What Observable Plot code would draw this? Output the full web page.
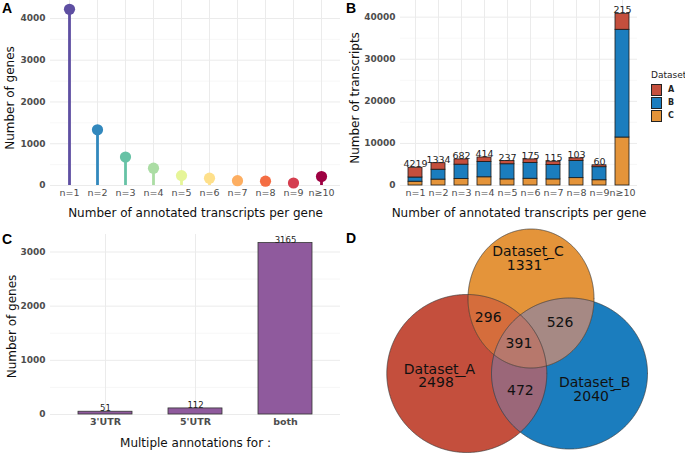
<!DOCTYPE html>
<html>
<head>
<meta charset="utf-8">
<script src="https://cdn.jsdelivr.net/npm/d3@7"></script>
<script src="https://cdn.jsdelivr.net/npm/@observablehq/plot@0.6"></script>
<style>
  html, body { margin:0; padding:0; background:#fff; }
  #fig { position:relative; width:685px; height:453px; overflow:hidden; font-family:"DejaVu Sans", sans-serif; }
  .panel { position:absolute; }
  .tag { position:absolute; font:bold 14px "Liberation Sans", Arial, sans-serif; line-height:14px; color:#000; }
  .panel svg [aria-label^="y-axis"] text { font-weight:bold; font-size:9px; }
  .panel svg [aria-label^="x-axis"] text { font-size:9.5px; }
  #panelC svg [aria-label^="x-axis"] text { font-weight:bold; font-size:9.5px; }
  #legendB { position:absolute; left:651px; top:70px; font-family:"DejaVu Sans", sans-serif; }
  #legendB .ttl { font-size:9px; color:#222; line-height:10px; height:13px; }
  #legendB .row { display:flex; align-items:center; height:13px; }
  #legendB .key { width:11px; height:12px; border:0.8px solid #222; box-sizing:border-box; }
  #legendB .lab { font-size:8px; font-weight:bold; color:#222; margin-left:6px; }
</style>
</head>
<body>
<div id="fig"></div>
<script>
// ---------------- data ----------------
const nLabels = ["n=1","n=2","n=3","n=4","n=5","n=6","n=7","n=8","n=9","n\u226510"];
const genesPerN = [4219,1334,682,414,237,175,115,103,60,215];
const spectralColors = ["#5E4FA2","#3288BD","#66C2A5","#ABDDA4","#E6F598","#FEE08B","#FDAE61","#F46D43","#D53E4F","#9E0142"];

const datasets = ["A","B","C"];
const datasetColors = ["#C44F3D","#1B7DBE","#E4943A"];
const transcriptsA = [2319,1550,1250,1050,750,850,800,600,450,3800];
const transcriptsB = [1000,2350,3400,3650,3600,3750,3400,4100,3100,25600];
const transcriptsC = [900,1400,1550,1950,1450,1600,1450,1750,1250,11400];

const utrCategories = ["3'UTR","5'UTR","both"];
const utrGenes = [51,112,3165];
const utrColor = "#8F5A9D";

const ticksA = [0,1000,2000,3000,4000];
const minorA = [500,1500,2500,3500];
const ticksB = [0,10000,20000,30000,40000];
const minorB = [5000,15000,25000,35000];
const ticksC = [0,1000,2000,3000];
const minorC = [500,1500,2500];

const vennSetNames = ["Dataset_A","Dataset_B","Dataset_C"];
const vennRegionKeys = ["100","010","001","110","101","011","111"];
const vennRegionCounts = [2498,2040,1331,472,296,526,391];
const vennRegionColors = ["#C44F3D","#1B7DBE","#E4943A","#9B6779","#D56D3C","#A68984","#B7786C"];

// layout of the Venn ellipses (panel units) and label nudges (px)
const vennLayout = [
  {cx:126.3, cy:148, rx:80, ry:79},
  {cx:229, cy:148, rx:78, ry:75.5},
  {cx:190.5, cy:73, rx:63, ry:69.5}
];
const vennLabelNudge = [[-7,-4],[2,3],[-3,-12],[2,0],[-2,-2],[0,-3],[-2,-2]];

// ---------------- helpers ----------------
const fig = document.getElementById("fig");
function place(node, left, top, id) {
  const d = document.createElement("div");
  d.className = "panel"; d.style.left = left + "px"; d.style.top = top + "px";
  if (id) d.id = id;
  d.appendChild(node); fig.appendChild(d);
}
function tag(t, left, top) {
  const d = document.createElement("div");
  d.className = "tag"; d.textContent = t; d.style.left = left + "px"; d.style.top = top + "px";
  fig.appendChild(d);
}
const baseStyle = {fontFamily:"DejaVu Sans, sans-serif", fontSize:"9px", color:"#4d4d4d", background:"transparent", overflow:"visible"};
const majorGrid = "#ebebeb", minorGrid = "#f4f4f4";
function titleY(t, dx, dy) { return Plot.text([t], {text:d=>d, frameAnchor:"left", textAnchor:"middle", lineAnchor:"middle", rotate:-90, dx, dy, fontSize:12, fill:"#111"}); }
function titleX(t, dy) { return Plot.text([t], {text:d=>d, frameAnchor:"bottom", textAnchor:"middle", lineAnchor:"middle", dy, fontSize:12, fill:"#111"}); }

// ---------------- Panel A ----------------
const dataA = nLabels.map((n,i) => ({n, genes: genesPerN[i]}));
const plotA = Plot.plot({
  width:340, height:225, marginLeft:50, marginRight:0, marginTop:0, marginBottom:40, style:baseStyle,
  x:{type:"point", domain:nLabels, padding:0.6, label:null, tickSize:0, tickPadding:4},
  y:{domain:[0,4430], label:null, tickSize:0, tickPadding:5, ticks:ticksA, tickFormat:"d"},
  color:{type:"ordinal", domain:nLabels, range:spectralColors},
  marks:[
    Plot.ruleY(minorA, {stroke:minorGrid, strokeWidth:0.7}),
    Plot.ruleY(ticksA, {stroke:majorGrid}),
    Plot.ruleX(nLabels, {stroke:majorGrid}),
    Plot.ruleX(dataA, {x:"n", y1:0, y2:"genes", stroke:"n", strokeWidth:2.8}),
    Plot.dot(dataA, {x:"n", y:"genes", fill:"n", r:5.6}),
    titleY("Number of genes", -40, 5),
    titleX("Number of annotated transcripts per gene", 28)
  ]
});
place(plotA, 0, 0, "panelA");

// ---------------- Panel B ----------------
const rowsB = [];
nLabels.forEach((n,i) => {
  rowsB.push({n, dataset:"C", value:transcriptsC[i]});
  rowsB.push({n, dataset:"B", value:transcriptsB[i]});
  rowsB.push({n, dataset:"A", value:transcriptsA[i]});
});
const totalsB = nLabels.map((n,i) => ({n, total: transcriptsA[i]+transcriptsB[i]+transcriptsC[i], label: String(genesPerN[i])}));
const plotB = Plot.plot({
  width:345, height:225, marginLeft:60, marginRight:48, marginTop:0, marginBottom:40, style:baseStyle,
  x:{type:"band", domain:nLabels, paddingInner:0.4, paddingOuter:0.3, label:null, tickSize:0, tickPadding:4},
  y:{domain:[0,43960], label:null, tickSize:0, tickPadding:5, ticks:ticksB, tickFormat:"d"},
  color:{domain:datasets, range:datasetColors},
  marks:[
    Plot.ruleY(minorB, {stroke:minorGrid, strokeWidth:0.7}),
    Plot.ruleY(ticksB, {stroke:majorGrid}),
    Plot.ruleX(nLabels, {stroke:majorGrid}),
    Plot.barY(rowsB, {x:"n", y:"value", fill:"dataset", stroke:"#1a1a1a", strokeWidth:0.8}),
    Plot.text(totalsB, {x:"n", y:"total", text:"label", lineAnchor:"bottom", dy:-0.5, fontSize:9.5, fill:"#222"}),
    titleY("Number of transcripts", -45, 5),
    titleX("Number of annotated transcripts per gene", 28)
  ]
});
place(plotB, 340, 0, "panelB");

// legend for B
const leg = document.createElement("div");
leg.id = "legendB";
leg.innerHTML = '<div class="ttl">Dataset</div>' + datasets.map((d,i) =>
  `<div class="row"><div class="key" style="background:${datasetColors[i]}"></div><div class="lab">${d}</div></div>`).join("");
fig.appendChild(leg);

// ---------------- Panel C ----------------
const dataC = utrCategories.map((c,i) => ({cat:c, genes:utrGenes[i]}));
const plotC = Plot.plot({
  width:340, height:228, marginLeft:50, marginRight:0, marginTop:9, marginBottom:39, style:baseStyle,
  x:{type:"band", domain:utrCategories, paddingInner:0.4, paddingOuter:0.3, label:null, tickSize:0, tickPadding:4},
  y:{domain:[0,3323], label:null, tickSize:0, tickPadding:5, ticks:ticksC, tickFormat:"d"},
  marks:[
    Plot.ruleY(minorC, {stroke:minorGrid, strokeWidth:0.7}),
    Plot.ruleY(ticksC, {stroke:majorGrid}),
    Plot.ruleX(utrCategories, {stroke:majorGrid}),
    Plot.barY(dataC, {x:"cat", y:"genes", fill:utrColor, stroke:"#333", strokeWidth:0.8}),
    Plot.text(dataC, {x:"cat", y:"genes", text:d => String(d.genes), lineAnchor:"bottom", dy:-0.5, fontSize:8.5, fill:"#222"}),
    titleY("Number of genes", -38, 2),
    titleX("Multiple annotations for :", 29)
  ]
});
place(plotC, 0, 225, "panelC");

// ---------------- Panel D (Venn) ----------------
const inside = (e, x, y) => ((x-e.cx)/e.rx)**2 + ((y-e.cy)/e.ry)**2 <= 1 + 1e-9;
function ellipsePts(e, n = 720) {
  return d3.range(n).map(k => { const t = 2*Math.PI*k/n; return {x: e.cx + e.rx*Math.cos(t), y: e.cy + e.ry*Math.sin(t)}; });
}
function intersectionPts(idxs) {
  const pts = [];
  idxs.forEach(i => ellipsePts(vennLayout[i]).forEach(p => {
    if (idxs.every(j => j === i || inside(vennLayout[j], p.x, p.y))) pts.push(p);
  }));
  const mx = d3.mean(pts, p => p.x), my = d3.mean(pts, p => p.y);
  pts.sort((a,b) => Math.atan2(a.y-my, a.x-mx) - Math.atan2(b.y-my, b.x-mx));
  return pts;
}
// region centroids for labels
const acc = {};
for (let x = 0; x <= 345; x += 1) for (let y = 0; y <= 240; y += 1) {
  const key = vennLayout.map(e => inside(e, x, y) ? "1" : "0").join("");
  if (key === "000") continue;
  (acc[key] ||= {sx:0, sy:0, n:0}); acc[key].sx += x; acc[key].sy += y; acc[key].n++;
}
const vennLabels = vennRegionKeys.map((k,i) => ({
  x: acc[k].sx/acc[k].n, y: acc[k].sy/acc[k].n,
  dx: vennLabelNudge[i][0], dy: vennLabelNudge[i][1],
  text: i < 3 ? `${vennSetNames[i]}\n${vennRegionCounts[i]}\u00AF` : String(vennRegionCounts[i])
}));
const vennMarks = [];
vennRegionKeys.forEach((k,i) => {
  const idxs = [...k].map((c,j) => c === "1" ? j : -1).filter(j => j >= 0);
  const pts = idxs.length === 1 ? ellipsePts(vennLayout[idxs[0]]) : intersectionPts(idxs);
  vennMarks.push(Plot.line(pts, {x:"x", y:"y", fill:vennRegionColors[i], stroke:"none", curve:"linear-closed"}));
});
vennLayout.forEach(e => vennMarks.push(Plot.line(ellipsePts(e), {x:"x", y:"y", fill:"none", stroke:"#3a3a3a", strokeWidth:0.7, curve:"linear-closed"})));
vennLabels.forEach(l => vennMarks.push(Plot.text([l], {x:"x", y:"y", text:"text", dx:l.dx, dy:l.dy, fontSize:14, lineHeight:0.95, fill:"#111"})));
const plotD = Plot.plot({
  width:345, height:228, marginLeft:0, marginRight:0, marginTop:0, marginBottom:0,
  style:{...baseStyle, fontSize:"14px"},
  x:{domain:[0,345], axis:null},
  y:{domain:[228,0], axis:null},
  marks: vennMarks
});
place(plotD, 340, 225, "panelD");

// ---------------- tags ----------------
tag("A", 2, 1); tag("B", 346, 1); tag("C", 2, 232); tag("D", 346, 231);
</script>
</body>
</html>
